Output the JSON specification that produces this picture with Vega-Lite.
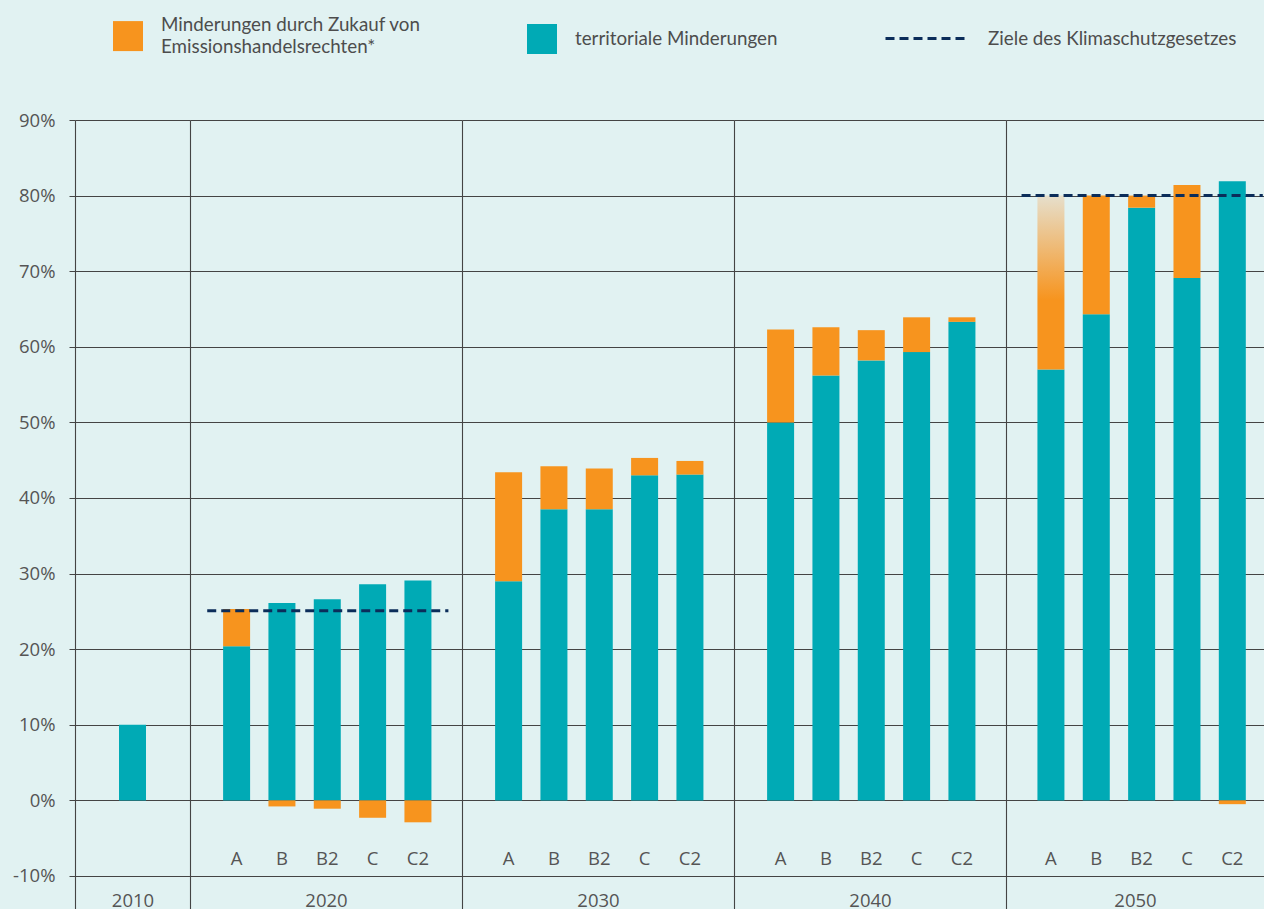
{
  "$schema": "https://vega.github.io/schema/vega-lite/v6.json",
  "autosize": {"type": "none"},
  "padding": {"left": 75, "top": 120, "right": 1189, "bottom": 789},
  "background": "#E1F2F2",
  "config": {
    "view": {"stroke": null},
    "font": "Open Sans",
    "axis": {"gridColor": "#444444", "gridWidth": 1.1, "domainColor": "#444444", "domainWidth": 1.1, "tickColor": "#444444", "labelColor": "#555555", "titleColor": "#555555", "labelFont": "Open Sans", "titleFont": "Open Sans", "labelFontSize": 18.5, "titleFontSize": 18.5, "titleFontWeight": "normal"},
    "legend": {"labelFont": "Lato", "labelFontSize": 18.8, "labelColor": "#4d4d4d", "padding": 0, "labelLimit": 0}
  },
  "datasets": {
    "balken": [
      {"jahr": "2010", "szenario": "Ist", "typ": "territoriale Minderungen", "wert": 10.0},
      {"jahr": "2020", "szenario": "A", "typ": "territoriale Minderungen", "wert": 20.4},
      {"jahr": "2020", "szenario": "A", "typ": "Minderungen durch Zukauf von Emissionshandelsrechten*", "wert": 4.9},
      {"jahr": "2020", "szenario": "B", "typ": "territoriale Minderungen", "wert": 26.1},
      {"jahr": "2020", "szenario": "B", "typ": "Minderungen durch Zukauf von Emissionshandelsrechten*", "wert": -0.8},
      {"jahr": "2020", "szenario": "B2", "typ": "territoriale Minderungen", "wert": 26.6},
      {"jahr": "2020", "szenario": "B2", "typ": "Minderungen durch Zukauf von Emissionshandelsrechten*", "wert": -1.1},
      {"jahr": "2020", "szenario": "C", "typ": "territoriale Minderungen", "wert": 28.6},
      {"jahr": "2020", "szenario": "C", "typ": "Minderungen durch Zukauf von Emissionshandelsrechten*", "wert": -2.3},
      {"jahr": "2020", "szenario": "C2", "typ": "territoriale Minderungen", "wert": 29.1},
      {"jahr": "2020", "szenario": "C2", "typ": "Minderungen durch Zukauf von Emissionshandelsrechten*", "wert": -2.9},
      {"jahr": "2030", "szenario": "A", "typ": "territoriale Minderungen", "wert": 29.0},
      {"jahr": "2030", "szenario": "A", "typ": "Minderungen durch Zukauf von Emissionshandelsrechten*", "wert": 14.4},
      {"jahr": "2030", "szenario": "B", "typ": "territoriale Minderungen", "wert": 38.5},
      {"jahr": "2030", "szenario": "B", "typ": "Minderungen durch Zukauf von Emissionshandelsrechten*", "wert": 5.7},
      {"jahr": "2030", "szenario": "B2", "typ": "territoriale Minderungen", "wert": 38.5},
      {"jahr": "2030", "szenario": "B2", "typ": "Minderungen durch Zukauf von Emissionshandelsrechten*", "wert": 5.4},
      {"jahr": "2030", "szenario": "C", "typ": "territoriale Minderungen", "wert": 43.0},
      {"jahr": "2030", "szenario": "C", "typ": "Minderungen durch Zukauf von Emissionshandelsrechten*", "wert": 2.3},
      {"jahr": "2030", "szenario": "C2", "typ": "territoriale Minderungen", "wert": 43.1},
      {"jahr": "2030", "szenario": "C2", "typ": "Minderungen durch Zukauf von Emissionshandelsrechten*", "wert": 1.8},
      {"jahr": "2040", "szenario": "A", "typ": "territoriale Minderungen", "wert": 50.0},
      {"jahr": "2040", "szenario": "A", "typ": "Minderungen durch Zukauf von Emissionshandelsrechten*", "wert": 12.3},
      {"jahr": "2040", "szenario": "B", "typ": "territoriale Minderungen", "wert": 56.2},
      {"jahr": "2040", "szenario": "B", "typ": "Minderungen durch Zukauf von Emissionshandelsrechten*", "wert": 6.4},
      {"jahr": "2040", "szenario": "B2", "typ": "territoriale Minderungen", "wert": 58.2},
      {"jahr": "2040", "szenario": "B2", "typ": "Minderungen durch Zukauf von Emissionshandelsrechten*", "wert": 4.0},
      {"jahr": "2040", "szenario": "C", "typ": "territoriale Minderungen", "wert": 59.3},
      {"jahr": "2040", "szenario": "C", "typ": "Minderungen durch Zukauf von Emissionshandelsrechten*", "wert": 4.6},
      {"jahr": "2040", "szenario": "C2", "typ": "territoriale Minderungen", "wert": 63.3},
      {"jahr": "2040", "szenario": "C2", "typ": "Minderungen durch Zukauf von Emissionshandelsrechten*", "wert": 0.6},
      {"jahr": "2050", "szenario": "A", "typ": "territoriale Minderungen", "wert": 57.0},
      {"jahr": "2050", "szenario": "A", "typ": "Minderungen durch Zukauf von Emissionshandelsrechten*", "wert": 23.0},
      {"jahr": "2050", "szenario": "B", "typ": "territoriale Minderungen", "wert": 64.3},
      {"jahr": "2050", "szenario": "B", "typ": "Minderungen durch Zukauf von Emissionshandelsrechten*", "wert": 15.7},
      {"jahr": "2050", "szenario": "B2", "typ": "territoriale Minderungen", "wert": 78.4},
      {"jahr": "2050", "szenario": "B2", "typ": "Minderungen durch Zukauf von Emissionshandelsrechten*", "wert": 1.6},
      {"jahr": "2050", "szenario": "C", "typ": "territoriale Minderungen", "wert": 69.1},
      {"jahr": "2050", "szenario": "C", "typ": "Minderungen durch Zukauf von Emissionshandelsrechten*", "wert": 12.3},
      {"jahr": "2050", "szenario": "C2", "typ": "territoriale Minderungen", "wert": 81.9},
      {"jahr": "2050", "szenario": "C2", "typ": "Minderungen durch Zukauf von Emissionshandelsrechten*", "wert": -0.5}
    ],
    "ziele": [
      {"jahr": "2020", "von": "A", "bis": "C2", "typ": "Ziele des Klimaschutzgesetzes", "ziel": 25.1},
      {"jahr": "2050", "von": "A", "bis": "C2", "typ": "Ziele des Klimaschutzgesetzes", "ziel": 80.0}
    ]
  },
  "spacing": 0,
  "bounds": "flush",
  "resolve": {"scale": {"x": "independent", "y": "independent", "fill": "shared", "strokeDash": "shared"}, "axis": {"x": "independent", "y": "independent"}},
  "hconcat": [
    {
      "width": 115, "height": 790,
      "data": {"name": "balken"},
      "transform": [{"filter": "datum.jahr == '2010'"}],
      "mark": {"type": "bar", "width": 27},
      "encoding": {
        "x": {"field": "szenario", "type": "nominal", "scale": {"paddingInner": 0.4, "paddingOuter": 0.5},
              "axis": {"title": "2010", "labels": false, "domain": false, "ticks": false, "titleY": -10, "titleBaseline": "middle"}},
        "y": {"field": "wert", "type": "quantitative", "stack": "zero", "scale": {"domain": [-14.5, 90], "nice": false, "zero": false},
              "axis": {"title": null, "values": [-10, 0, 10, 20, 30, 40, 50, 60, 70, 80, 90], "labelExpr": "datum.value + '%'", "tickSize": 6, "labelPadding": 14, "grid": true}},
        "fill": {"field": "typ", "type": "nominal",
                 "scale": {"domain": ["Minderungen durch Zukauf von Emissionshandelsrechten*", "territoriale Minderungen"], "range": ["#F7941E", "#00AAB5"]},
                 "legend": {"orient": "none", "legendX": 38, "legendY": -99, "direction": "horizontal", "title": null, "symbolType": "square", "symbolSize": 900, "symbolStrokeWidth": 0, "labelOffset": 18, "columnPadding": 106,
                            "labelExpr": "datum.label == 'Minderungen durch Zukauf von Emissionshandelsrechten*' ? ['Minderungen durch Zukauf von', 'Emissionshandelsrechten*'] : datum.label",
                            "encode": {"labels": {"update": {"lineHeight": {"value": 22}, "dy": {"signal": "datum.value == 'Minderungen durch Zukauf von Emissionshandelsrechten*' ? -11 : 0"}}}}}},
        "order": {"field": "typ", "sort": "descending"}
      }
    },
    {
      "width": 272, "height": 790,
      "layer": [
        {
          "data": {"name": "balken"},
          "transform": [{"filter": "datum.jahr == '2020'"}],
          "mark": {"type": "bar", "width": 27},
          "encoding": {
            "x": {"field": "szenario", "type": "nominal", "scale": {"domain": ["A", "B", "B2", "C", "C2"], "paddingInner": 0.4, "paddingOuter": 0.7, "align": 0.52},
                  "axis": {"title": "2020", "labelAngle": 0, "labelPadding": -52, "labelBaseline": "middle", "domain": false, "ticks": false, "titleY": -10, "titleBaseline": "middle"}},
            "y": {"field": "wert", "type": "quantitative", "stack": "zero", "scale": {"domain": [-14.5, 90], "nice": false, "zero": false},
                  "axis": {"title": null, "values": [-10, 0, 10, 20, 30, 40, 50, 60, 70, 80, 90], "labels": false, "ticks": false, "grid": true}},
            "fill": {"field": "typ", "type": "nominal"},
            "order": {"field": "typ", "sort": "descending"}
          }
        },
        {
          "data": {"name": "ziele"},
          "transform": [{"filter": "datum.jahr == '2020'"}],
          "mark": {"type": "rule", "color": "#0B2D5A", "strokeWidth": 3},
          "encoding": {
            "x": {"field": "von", "type": "nominal", "bandPosition": -0.58},
            "x2": {"field": "bis", "bandPosition": 1.62},
            "y": {"field": "ziel", "type": "quantitative"},
            "strokeDash": {"field": "typ", "type": "nominal", "scale": {"range": [[9, 5]]},
                           "legend": {"orient": "none", "legendX": 809, "legendY": -123.5, "title": null, "symbolType": "stroke", "symbolSize": 6561, "symbolStrokeWidth": 3, "symbolStrokeColor": "#0B2D5A", "symbolDash": [8, 4], "labelOffset": 20}}
          }
        }
      ]
    },
    {
      "width": 272, "height": 790,
      "data": {"name": "balken"},
      "transform": [{"filter": "datum.jahr == '2030'"}],
      "mark": {"type": "bar", "width": 27},
      "encoding": {
        "x": {"field": "szenario", "type": "nominal", "scale": {"domain": ["A", "B", "B2", "C", "C2"], "paddingInner": 0.4, "paddingOuter": 0.7, "align": 0.52},
              "axis": {"title": "2030", "labelAngle": 0, "labelPadding": -52, "labelBaseline": "middle", "domain": false, "ticks": false, "titleY": -10, "titleBaseline": "middle"}},
        "y": {"field": "wert", "type": "quantitative", "stack": "zero", "scale": {"domain": [-14.5, 90], "nice": false, "zero": false},
              "axis": {"title": null, "values": [-10, 0, 10, 20, 30, 40, 50, 60, 70, 80, 90], "labels": false, "ticks": false, "grid": true}},
        "fill": {"field": "typ", "type": "nominal"},
        "order": {"field": "typ", "sort": "descending"}
      }
    },
    {
      "width": 272, "height": 790,
      "data": {"name": "balken"},
      "transform": [{"filter": "datum.jahr == '2040'"}],
      "mark": {"type": "bar", "width": 27},
      "encoding": {
        "x": {"field": "szenario", "type": "nominal", "scale": {"domain": ["A", "B", "B2", "C", "C2"], "paddingInner": 0.4, "paddingOuter": 0.7, "align": 0.52},
              "axis": {"title": "2040", "labelAngle": 0, "labelPadding": -52, "labelBaseline": "middle", "domain": false, "ticks": false, "titleY": -10, "titleBaseline": "middle"}},
        "y": {"field": "wert", "type": "quantitative", "stack": "zero", "scale": {"domain": [-14.5, 90], "nice": false, "zero": false},
              "axis": {"title": null, "values": [-10, 0, 10, 20, 30, 40, 50, 60, 70, 80, 90], "labels": false, "ticks": false, "grid": true}},
        "fill": {"field": "typ", "type": "nominal"},
        "order": {"field": "typ", "sort": "descending"}
      }
    },
    {
      "width": 258, "height": 790,
      "layer": [
        {
          "data": {"name": "balken"},
          "transform": [{"filter": "datum.jahr == '2050'"}],
          "mark": {"type": "bar", "width": 27},
          "encoding": {
            "x": {"field": "szenario", "type": "nominal", "scale": {"domain": ["A", "B", "B2", "C", "C2"], "paddingInner": 0.4, "paddingOuter": 0.545, "align": 0.634},
                  "axis": {"title": "2050", "labelAngle": 0, "labelPadding": -52, "labelBaseline": "middle", "domain": false, "ticks": false, "titleY": -10, "titleBaseline": "middle"}},
            "y": {"field": "wert", "type": "quantitative", "stack": "zero", "scale": {"domain": [-14.5, 90], "nice": false, "zero": false},
                  "axis": {"title": null, "values": [-10, 0, 10, 20, 30, 40, 50, 60, 70, 80, 90], "labels": false, "ticks": false, "grid": true}},
            "fill": {
              "condition": {"test": "datum.szenario == 'A' && datum.typ == 'Minderungen durch Zukauf von Emissionshandelsrechten*'",
                            "value": {"gradient": "linear", "x1": 0, "y1": 1, "x2": 0, "y2": 0, "stops": [{"offset": 0, "color": "#F7941E"}, {"offset": 0.4, "color": "#F7941E"}, {"offset": 1, "color": "#E6DFCC"}]}},
              "field": "typ", "type": "nominal"},
            "order": {"field": "typ", "sort": "descending"}
          }
        },
        {
          "data": {"name": "ziele"},
          "transform": [{"filter": "datum.jahr == '2050'"}],
          "mark": {"type": "rule", "color": "#0B2D5A", "strokeWidth": 3},
          "encoding": {
            "x": {"field": "von", "type": "nominal", "bandPosition": -0.58},
            "x2": {"field": "bis", "bandPosition": 1.62},
            "y": {"field": "ziel", "type": "quantitative"},
            "strokeDash": {"field": "typ", "type": "nominal"}
          }
        }
      ]
    }
  ]
}
